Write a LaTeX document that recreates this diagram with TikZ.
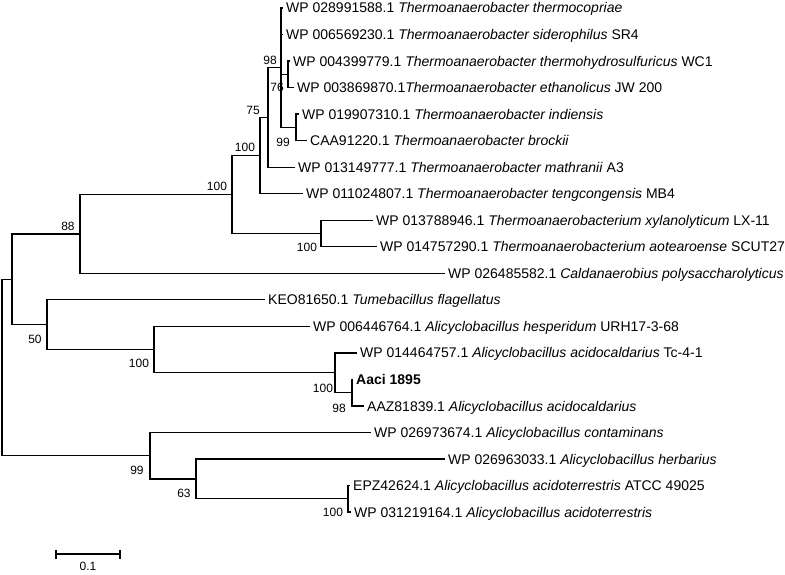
\documentclass[tikz,border=0pt]{standalone}
\usepackage{fontspec}
\setmainfont{Liberation Sans}
\usepackage{tikz}

\begin{document}
\begin{tikzpicture}[x=1pt,y=-1pt,
	branch/.style={line width=1.2pt},
	leaf/.style={anchor=west,inner xsep=3pt,inner ysep=0pt,text height=10pt,text depth=0pt,font=\fontsize{14}{16}\selectfont},
	boot/.style={inner sep=0pt,font=\fontsize{12}{14}\selectfont}]
	\useasboundingbox (0,0) rectangle (785,575);
	%LEAVES
	\node[leaf] (l1) at (283,8) {WP 028991588.1 \textit{Thermoanaerobacter thermocopriae}};
	\node[leaf] (l2) at (283,34.5) {WP 006569230.1 \textit{Thermoanaerobacter siderophilus} SR4};
	\node[leaf] (l3) at (290,61.1) {WP 004399779.1 \textit{Thermoanaerobacter thermohydrosulfuricus} WC1};
	\node[leaf] (l4) at (294,87.6) {WP 003869870.1\textit{Thermoanaerobacter ethanolicus} JW 200};
	\node[leaf] (l5) at (299,114.1) {WP 019907310.1 \textit{Thermoanaerobacter indiensis}};
	\node[leaf] (l6) at (307,140.7) {CAA91220.1 \textit{Thermoanaerobacter brockii}};
	\node[leaf] (l7) at (295,167.2) {WP 013149777.1 \textit{Thermoanaerobacter mathranii} A3};
	\node[leaf] (l8) at (303,193.7) {WP 011024807.1 \textit{Thermoanaerobacter tengcongensis} MB4};
	\node[leaf] (l9) at (373,220.2) {WP 013788946.1 \textit{Thermoanaerobacterium xylanolyticum} LX-11};
	\node[leaf] (l10) at (377,246.8) {WP 014757290.1 \textit{Thermoanaerobacterium aotearoense} SCUT27};
	\node[leaf] (l11) at (445,273.3) {WP 026485582.1 \textit{Caldanaerobius polysaccharolyticus}};
	\node[leaf] (l12) at (265,299.8) {KEO81650.1 \textit{Tumebacillus flagellatus}};
	\node[leaf] (l13) at (310,326.4) {WP 006446764.1 \textit{Alicyclobacillus hesperidum} URH17-3-68};
	\node[leaf] (l14) at (357,352.9) {WP 014464757.1 \textit{Alicyclobacillus acidocaldarius} Tc-4-1};
	\node[leaf] (l15) at (353,379.4) {\textbf{Aaci 1895}};
	\node[leaf] (l16) at (364,406) {AAZ81839.1 \textit{Alicyclobacillus acidocaldarius}};
	\node[leaf] (l17) at (371,432.5) {WP 026973674.1 \textit{Alicyclobacillus contaminans}};
	\node[leaf] (l18) at (445,459) {WP 026963033.1 \textit{Alicyclobacillus herbarius}};
	\node[leaf] (l19) at (350,485.5) {EPZ42624.1 \textit{Alicyclobacillus acidoterrestris} ATCC 49025};
	\node[leaf] (l20) at (351,512) {WP 031219164.1 \textit{Alicyclobacillus acidoterrestris}};
	
	%INNER NODES
	\coordinate (R) at (2,367.6);
	\coordinate (A) at (12,279.4);
	\coordinate (B) at (80,234);
	\coordinate (C) at (232,194.8);
	\coordinate (D) at (260,155.6);
	\coordinate (E) at (268,117.6);
	\coordinate (F) at (281,67.7);
	\coordinate (G) at (288,74.3);
	\coordinate (H) at (296,127.4);
	\coordinate (I) at (321,233.5);
	\coordinate (J) at (47,324.7);
	\coordinate (K) at (154,349.6);
	\coordinate (L) at (335,372.8);
	\coordinate (M) at (352,392.7);
	\coordinate (N) at (150,455.7);
	\coordinate (O) at (196,478.9);
	\coordinate (P) at (348,498.8);
	
	%BRANCHES
	\draw[branch] (R) |- (A) (R) |- (N);
	\draw[branch] (A) |- (B) (A) |- (J);
	\draw[branch] (B) |- (C) (B) |- (l11.west);
	\draw[branch] (C) |- (D) (C) |- (I);
	\draw[branch] (D) |- (E) (D) |- (l8.west);
	\draw[branch] (E) |- (F) (E) |- (l7.west);
	\draw[branch] (F) |- (l1.west) (F) |- (l2.west) (F) |- (G) (F) |- (H);
	\draw[branch] (G) |- (l3.west) (G) |- (l4.west);
	\draw[branch] (H) |- (l5.west) (H) |- (l6.west);
	\draw[branch] (I) |- (l9.west) (I) |- (l10.west);
	\draw[branch] (J) |- (l12.west) (J) |- (K);
	\draw[branch] (K) |- (l13.west) (K) |- (L);
	\draw[branch] (L) |- (l14.west) (L) |- (M);
	\draw[branch] (M) |- (l15.west) (M) |- (l16.west);
	\draw[branch] (N) |- (l17.west) (N) |- (O);
	\draw[branch] (O) |- (l18.west) (O) |- (P);
	\draw[branch] (P) |- (l19.west) (P) |- (l20.west);
	
	%BOOTSTRAP
	\node[boot] (bF) at (270,60) {98};
	\node[boot] (bG) at (277,87) {76};
	\node[boot] (bE) at (253,110) {75};
	\node[boot] (bH) at (283,142) {99};
	\node[boot] (bD) at (245,147) {100};
	\node[boot] (bC) at (217,186) {100};
	\node[boot] (bB) at (68,226) {88};
	\node[boot] (bI) at (307,247) {100};
	\node[boot] (bJ) at (35,339) {50};
	\node[boot] (bK) at (139,363) {100};
	\node[boot] (bL) at (323,388) {100};
	\node[boot] (bM) at (339,408) {98};
	\node[boot] (bN) at (137,470) {99};
	\node[boot] (bO) at (184,493) {63};
	\node[boot] (bP) at (333,512) {100};
	
	%SCALE BAR
	\coordinate (s1) at (56,554);
	\coordinate (s2) at (120,554);
	\draw[branch] (s1) -- (s2);
	\draw[branch] (s1) ++(0,-4.5) -- ++(0,9);
	\draw[branch] (s2) ++(0,-4.5) -- ++(0,9);
	\node[boot] (sl) at (88,566) {0.1};
\end{tikzpicture}
\end{document}
